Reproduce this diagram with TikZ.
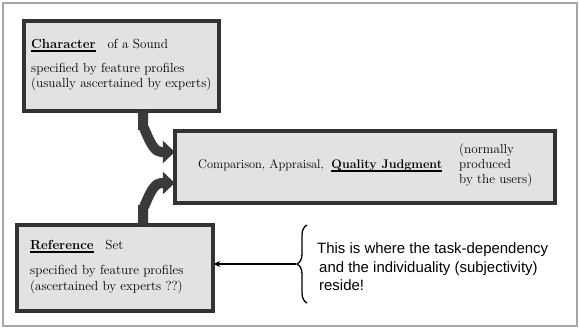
\documentclass[tikz,border=0pt]{standalone}
\usepackage{fontspec}
\newfontfamily\armfont{Liberation Sans}
\usetikzlibrary{arrows.meta,decorations.pathreplacing}
\definecolor{boxfill}{HTML}{E2E2E2}
\definecolor{boxline}{HTML}{333333}
\definecolor{arrowc}{HTML}{3A3A3A}
\definecolor{framec}{HTML}{A8A8A8}
\newcommand\myul[1]{\setbox0\hbox{#1}\rlap{\rule[-3.8bp]{\wd0}{1.6bp}}\box0}
\begin{document}
\begin{tikzpicture}[x=1bp,y=-1bp,
  panel/.style={draw=boxline,fill=boxfill,line width=4bp},
  txt/.style={anchor=base west,inner sep=0pt,font=\fontsize{13.2}{15}\selectfont},
  stxt/.style={anchor=base west,inner sep=0pt,font=\armfont\fontsize{15}{17}\selectfont},
  bigarrow/.style={draw=arrowc,line width=10bp,-{Triangle[width=22bp,length=12bp]}}]
\useasboundingbox (0,0) rectangle (579,328);
\draw[framec,line width=1.5bp] (3,3) rectangle (577,326);
% boxes
\path[panel] (24,21) rectangle (219,111);
\node[minimum width=195bp,minimum height=90bp,inner sep=0pt] (char) at (121.5,66) {};
\path[panel] (175,131) rectangle (555,203);
\node[minimum width=380bp,minimum height=72bp,inner sep=0pt] (qual) at (365,167) {};
\path[panel] (17,225) rectangle (213,311);
\node[minimum width=196bp,minimum height=86bp,inner sep=0pt] (ref) at (115,268) {};
% texts
\node[txt] (t1) at (31,48) {\myul{\textbf{Character}}\hspace{0.9em}of a Sound};
\node[txt] (t2) at (31,72) {specified by feature profiles};
\node[txt] (t3) at (31,87) {(usually ascertained by experts)};
\node[txt,font=\fontsize{12.5}{15}\selectfont] (t4) at (198,168) {Comparison, Appraisal,\hspace{0.6em}\myul{\textbf{Quality Judgment}}};
\node[txt] (t5) at (459,153) {(normally};
\node[txt] (t6) at (459,168) {produced};
\node[txt] (t7) at (459,183) {by the users)};
\node[txt] (t8) at (30,249) {\myul{\textbf{Reference}}\hspace{0.9em}Set};
\node[txt] (t9) at (30,274) {specified by feature profiles};
\node[txt] (t10) at (30,290) {(ascertained by experts ??)};
\node[stxt] (s1) at (317,253) {This is where the task-dependency};
\node[stxt] (s2) at (319,272) {and the individuality (subjectivity)};
\node[stxt] (s3) at (319,290) {reside!};
% arrows
\draw[bigarrow] (char.south -| 143,0) -- (143,130) to[out=90,in=180] (161,152) -- (qual.west |- 0,152);
\draw[bigarrow] (ref.north -| 143,0) -- (143,205) to[out=-90,in=180] (161,183) -- (qual.west |- 0,183);
% brace
\coordinate (bt) at (307,225);
\coordinate (bb) at (307,303);
\draw[line width=1.3bp,decorate,decoration={brace,amplitude=10bp}] (bb) -- (bt);
\coordinate (bm) at (296,264);
\draw[line width=1.3bp,-{Stealth[length=7bp,width=6bp]}] (bm) -- (ref.east |- bm);
\end{tikzpicture}
\end{document}
